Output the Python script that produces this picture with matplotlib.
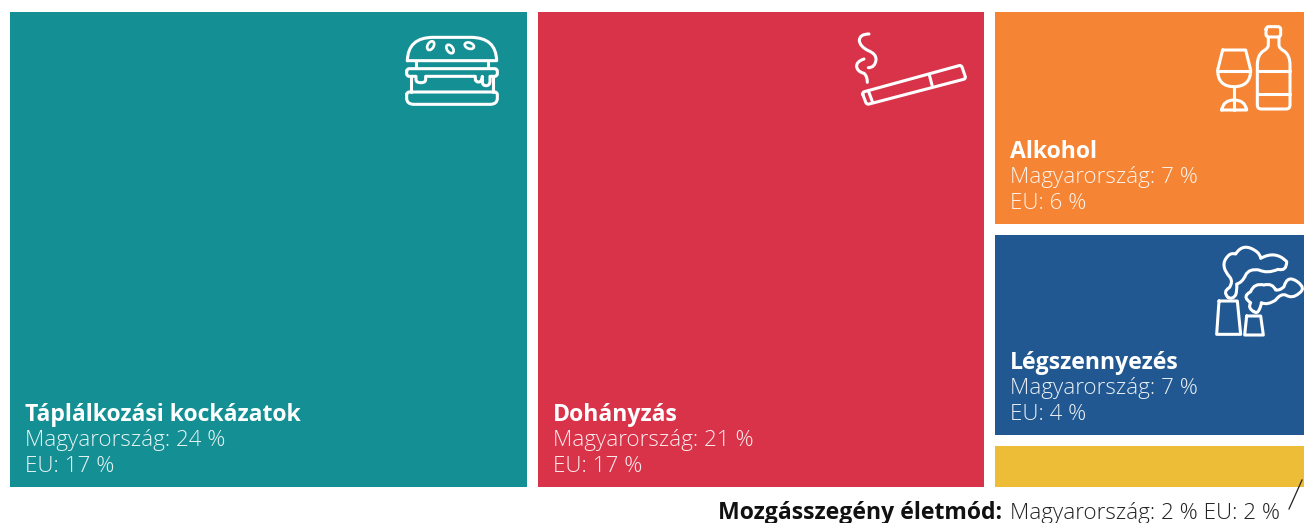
import matplotlib
matplotlib.use("Agg")
import matplotlib.pyplot as plt
import matplotlib.patches as mpatches
from matplotlib.path import Path
import math

# Data
categories = ["Táplálkozási kockázatok", "Dohányzás", "Alkohol", "Légszennyezés", "Mozgásszegény életmód"]
hungary = [24, 21, 7, 7, 2]
eu = [17, 17, 6, 4, 2]
# tile areas (unrounded share, estimated from the tile sizes)
area = [23.9, 20.6, 6.69, 6.31, 1.30]
colors = ["#148F94", "#D93349", "#F58434", "#215891", "#EDBD38"]

W, H = 1304, 523
LEFT, TOP, RIGHT, BOTTOM = 10, 12, 1304, 487
GAP = 11
LINE = 2.2
WHITE = "#FFFFFF"
FONT = "Open Sans"
BOLD_SIZE = 16.6
REG_SIZE = 16.1

fig = plt.figure(figsize=(W / 100, H / 100), dpi=100)
ax = fig.add_axes([0, 0, 1, 1])
ax.set_xlim(0, W)
ax.set_ylim(H, 0)
ax.axis("off")

# Treemap layout: two big columns, then one column with the rest
total = sum(area)
free_w = RIGHT - LEFT - 2 * GAP
free_h = BOTTOM - TOP
rects = []
x = LEFT
for a in area[:2]:
    w = free_w * a / total
    rects.append((x, TOP, w, free_h))
    x += w + GAP
rest = area[2:]
col_w = RIGHT - x
y = TOP
for a in rest:
    h = (free_h - GAP * (len(rest) - 1)) * a / sum(rest)
    rects.append((x, y, col_w, h))
    y += h + GAP

for r, c in zip(rects, colors):
    ax.add_patch(mpatches.Rectangle((r[0], r[1]), r[2], r[3], facecolor=c, edgecolor="none"))

# Labels
for i in range(4):
    rx, ry, rw, rh = rects[i]
    yb = ry + rh
    ax.text(rx + 15, yb - 66, categories[i], color=WHITE, fontsize=BOLD_SIZE, fontweight="bold",
            family=FONT, va="baseline")
    ax.text(rx + 15, yb - 41, f"Magyarország: {hungary[i]} %", color=WHITE, fontsize=REG_SIZE,
            family=FONT, fontweight="light", va="baseline", alpha=0.9)
    ax.text(rx + 15, yb - 15, f"EU: {eu[i]} %", color=WHITE, fontsize=REG_SIZE,
            family=FONT, fontweight="light", va="baseline", alpha=0.9)

ax.text(1002, 519, categories[4] + ":", color="#111111", fontsize=BOLD_SIZE, fontweight="bold",
        family=FONT, ha="right", va="baseline")
ax.text(1010, 519, f"Magyarország: {hungary[4]} % EU: {eu[4]} %", color="#222222", fontsize=REG_SIZE,
        family=FONT, fontweight="light", va="baseline")
ax.plot([1302, 1289], [480, 509], color="#222222", lw=0.9)


# Icon helpers: points are given in zoomed (3x) crop coordinates
def add_path(ox, oy, verts, codes):
    verts = [(ox + vx / 3, oy + vy / 3) for vx, vy in verts]
    ax.add_patch(mpatches.PathPatch(Path(verts, codes), facecolor="none", edgecolor=WHITE,
                                    lw=LINE, joinstyle="round", capstyle="round"))


def line(ox, oy, pts):
    add_path(ox, oy, list(pts), [Path.MOVETO] + [Path.LINETO] * (len(pts) - 1))


def rounded(ox, oy, pts):
    # closed outline, pts are (x, y, radius); corners are cut with a quadratic curve
    n = len(pts)
    verts, codes = [], []
    for i in range(n):
        p = pts[i]
        a = pts[(i - 1) % n]
        b = pts[(i + 1) % n]
        la = math.hypot(a[0] - p[0], a[1] - p[1])
        lb = math.hypot(b[0] - p[0], b[1] - p[1])
        ra = min(p[2], la / 2)
        rb = min(p[2], lb / 2)
        s = (p[0] + (a[0] - p[0]) * ra / la, p[1] + (a[1] - p[1]) * ra / la)
        e = (p[0] + (b[0] - p[0]) * rb / lb, p[1] + (b[1] - p[1]) * rb / lb)
        verts.append(s)
        codes.append(Path.LINETO if verts[:-1] else Path.MOVETO)
        verts += [(p[0], p[1]), e]
        codes += [Path.CURVE3, Path.CURVE3]
    verts.append(verts[0])
    codes.append(Path.LINETO)
    add_path(ox, oy, verts, codes)


def lobes(ox, oy, start, chain):
    # chain of (ctrl_x, ctrl_y, end_x, end_y) quadratic pieces, or (x, y) for a straight piece
    verts = [start]
    codes = [Path.MOVETO]
    for c in chain:
        if len(c) == 2:
            verts.append(c)
            codes.append(Path.LINETO)
        else:
            verts += [(c[0], c[1]), (c[2], c[3])]
            codes += [Path.CURVE3, Path.CURVE3]
    add_path(ox, oy, verts, codes)


# Burger
bx, by = 380, 20
lobes(bx, by, (82, 122), [(350, 122), (348, 52, 272, 52), (160, 52), (84, 52, 82, 122)])
for cx, cy, ang in [(152, 77, 30), (210, 87, -35), (268, 77, -70)]:
    ax.add_patch(mpatches.Ellipse((bx + cx / 3, by + cy / 3), 6, 9.5, angle=ang, facecolor="none",
                                  edgecolor=WHITE, lw=1.9))
line(bx, by, [(108, 125), (108, 145)])
line(bx, by, [(325, 125), (325, 145)])
rounded(bx, by, [(80, 146, 8), (352, 146, 8), (352, 169, 8), (330, 169, 0), (330, 197, 14), (307, 197, 12),
                 (307, 169, 0), (305, 186, 10), (286, 186, 10), (286, 169, 0), (137, 169, 0), (137, 188, 14),
                 (108, 188, 14), (108, 169, 0), (80, 169, 8)])
line(bx, by, [(92, 172), (92, 215)])
line(bx, by, [(340, 172), (340, 215)])
rounded(bx, by, [(80, 216, 8), (352, 216, 8), (352, 253, 22), (80, 253, 22)])

# Cigarette
cx0, cy0 = 840, 20
rounded(cx0, cy0, [(66, 217, 7), (364, 135, 7), (378, 176, 7), (80, 254, 7)])
line(cx0, cy0, [(85, 212), (97, 245)])
line(cx0, cy0, [(268, 165), (276, 195)])
lobes(cx0, cy0, (87, 42), [(58, 42, 58, 62), (60, 80, 85, 92), (110, 102, 108, 120), (105, 143, 85, 143)])
lobes(cx0, cy0, (72, 117), [(48, 125, 50, 140), (52, 155, 72, 160), (82, 168, 82, 187)])

# Wine glass and bottle
ax0, ay0 = 1200, 15
lobes(ax0, ay0, (68, 105), [(137, 105), (152, 165), (152, 215, 102, 215), (53, 215, 53, 165), (68, 105)])
line(ax0, ay0, [(55, 168), (150, 168)])
line(ax0, ay0, [(102, 215), (102, 285)])
lobes(ax0, ay0, (65, 285), [(70, 255, 102, 255), (135, 255, 140, 285), (65, 285)])
rounded(ax0, ay0, [(198, 35, 8), (242, 35, 8), (242, 66, 8), (198, 66, 8)])
lobes(ax0, ay0, (205, 66), [(205, 90), (205, 100, 190, 108), (172, 120, 172, 150), (172, 270), (172, 282, 184, 282),
                            (258, 282), (270, 282, 270, 270), (270, 150), (270, 120, 252, 108), (237, 100, 237, 90),
                            (237, 66)])
line(ax0, ay0, [(172, 168), (270, 168)])
line(ax0, ay0, [(172, 237), (270, 237)])

# Factory
fx, fy = 1204, 240
line(fx, fy, [(45, 183), (100, 183), (110, 283), (38, 283), (45, 183)])
line(fx, fy, [(128, 228), (170, 228), (178, 285), (122, 285), (128, 228)])
lobes(fx, fy, (72, 172), [(55, 155, 76, 143), (88, 125, 78, 112), (45, 75, 72, 48), (80, 38, 95, 42),
                          (118, 5, 158, 35), (170, 45, 170, 55), (215, 30, 248, 65), (248, 95, 222, 88),
                          (190, 102, 165, 90), (135, 85, 125, 105), (115, 128, 98, 132), (100, 150, 95, 165),
                          (85, 180, 72, 172)])
lobes(fx, fy, (150, 215), [(130, 205, 140, 188), (112, 170, 140, 155), (150, 128, 180, 135), (205, 128, 215, 150),
                           (228, 152, 240, 140), (250, 103, 280, 125), (308, 145, 285, 160), (265, 178, 245, 165),
                           (230, 160, 215, 180), (190, 197, 172, 188), (172, 197, 165, 210), (160, 222, 150, 215)])

fig.savefig("out.png", dpi=100, facecolor="white")
